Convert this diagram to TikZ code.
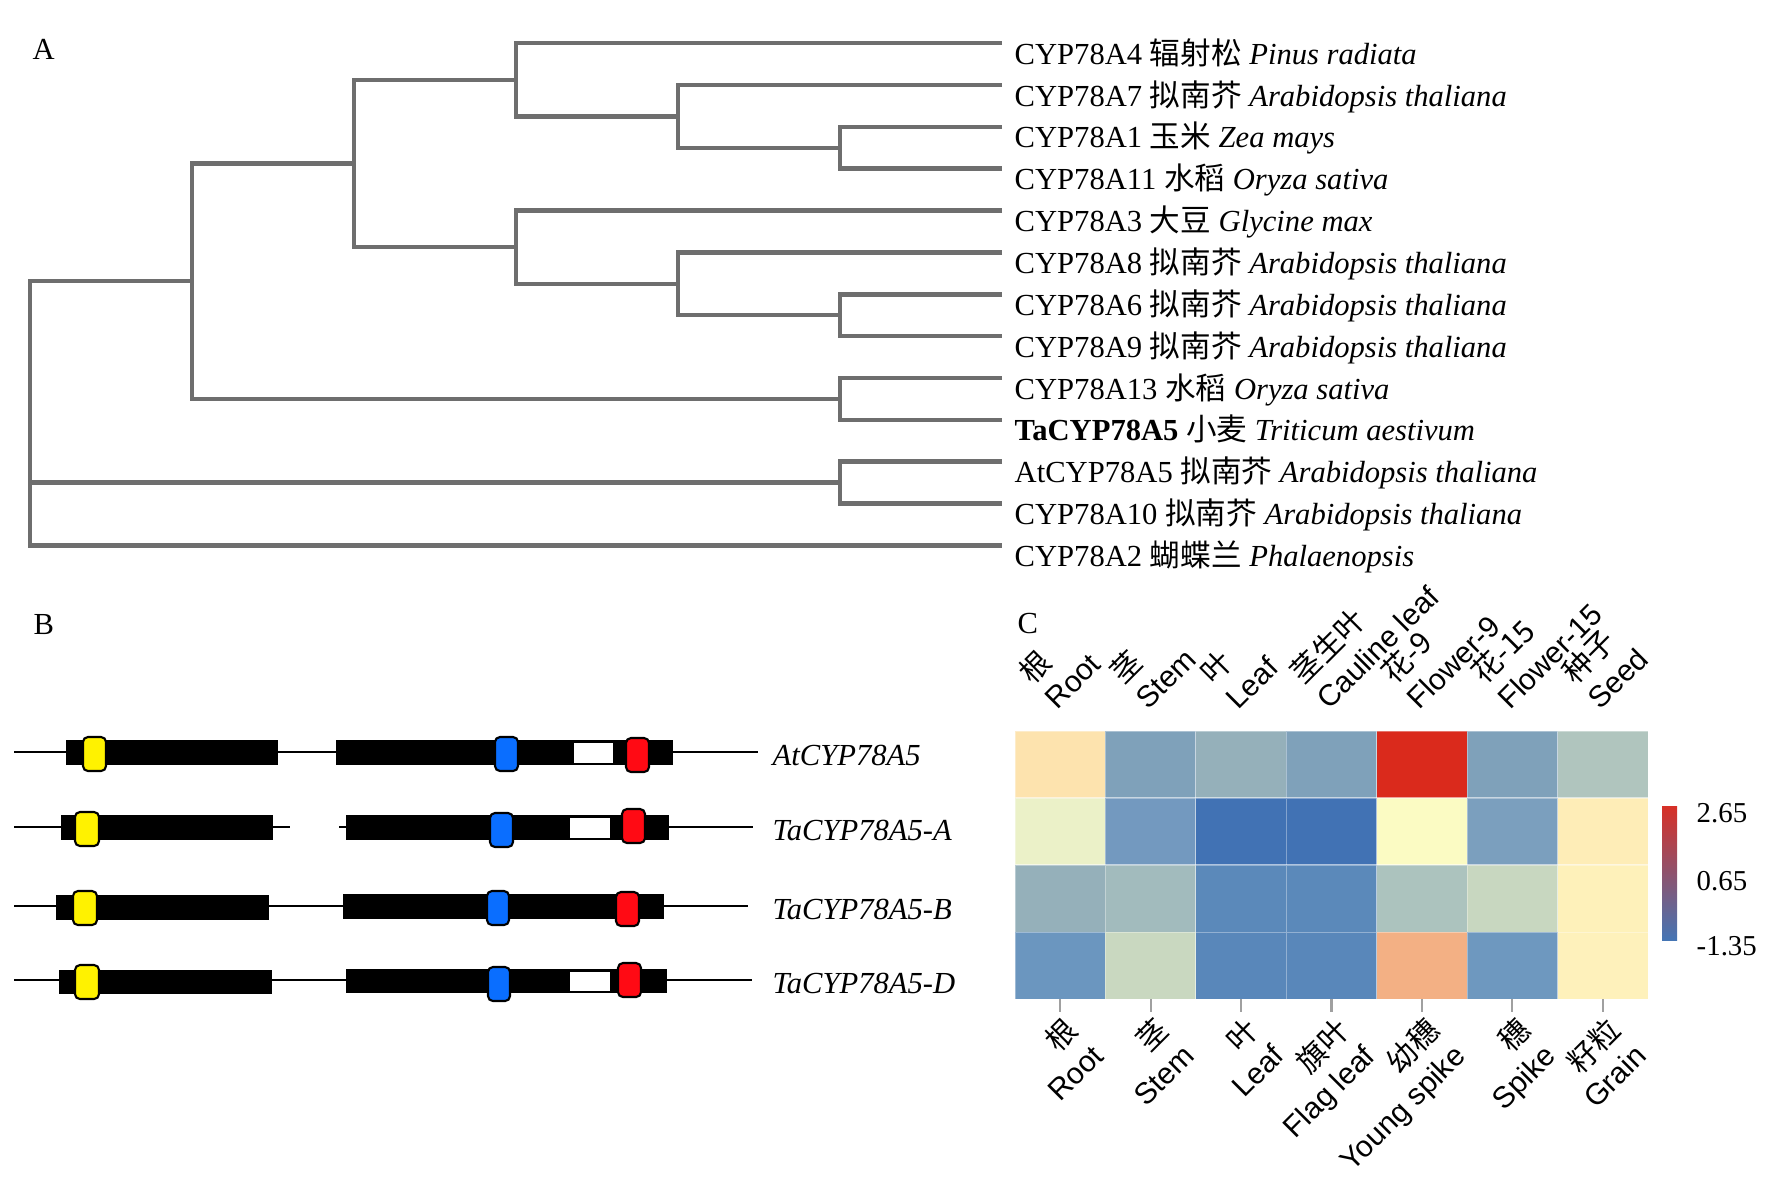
\documentclass[tikz,border=0pt]{standalone}
\usepackage{fontspec}
\setmainfont{Liberation Serif}
\setsansfont{Liberation Sans}
\newfontfamily\cjk{Noto Sans CJK SC}
\usepackage{tikz}

\definecolor{treegray}{HTML}{6E6E6E}
\definecolor{motifyellow}{HTML}{FFF200}
\definecolor{motifblue}{HTML}{0A6EFF}
\definecolor{motifred}{HTML}{FF0A14}
\definecolor{tickgray}{HTML}{A0A0A0}
\definecolor{hmred}{HTML}{D73027}
\definecolor{hmyellow}{HTML}{FFFFBF}
\definecolor{hmblue}{HTML}{4575B4}

\begin{document}
\begin{tikzpicture}[x=0.01cm, y=-0.01cm,
    tree/.style={draw=treegray, line width=1.3pt},
    leaflab/.style={anchor=base west, inner sep=0pt, font=\fontsize{8.7}{10}\selectfont},
    panel/.style={anchor=base west, inner sep=0pt, font=\fontsize{8.7}{10}\selectfont},
    intron/.style={line width=0.8pt},
    motif/.style={draw=black, line width=0.6pt, rounded corners=1.4pt},
    genelab/.style={anchor=base west, inner sep=0pt, font=\itshape\fontsize{8.7}{10}\selectfont},
    toplab/.style={rotate=45, anchor=south west, align=left, inner sep=0pt, font=\sffamily\fontsize{8.5}{10.2}\selectfont},
    botlab/.style={rotate=45, anchor=north east, align=right, inner sep=0pt, font=\sffamily\fontsize{8.5}{10.2}\selectfont},
    scalelab/.style={anchor=west, inner sep=0pt, font=\fontsize{8.2}{10}\selectfont}]
  \useasboundingbox (0,0) rectangle (1777,1187);

  % A: tree
  \node[panel] (pa) at (32,59) {A};
  \coordinate (l0) at (1002,43.2);
  \coordinate (l1) at (1002,85.05);
  \coordinate (l2) at (1002,126.9);
  \coordinate (l3) at (1002,168.75);
  \coordinate (l4) at (1002,210.6);
  \coordinate (l5) at (1002,252.45);
  \coordinate (l6) at (1002,294.3);
  \coordinate (l7) at (1002,336.15);
  \coordinate (l8) at (1002,378);
  \coordinate (l9) at (1002,419.85);
  \coordinate (l10) at (1002,461.7);
  \coordinate (l11) at (1002,503.55);
  \coordinate (l12) at (1002,545.4);
  \coordinate (n6a) at (840,147.8);
  \coordinate (n5a) at (678,116.4);
  \coordinate (n4a) at (516,79.8);
  \coordinate (n6b) at (840,315.2);
  \coordinate (n5b) at (678,283.8);
  \coordinate (n4b) at (516,247.2);
  \coordinate (n3) at (354,163.5);
  \coordinate (n6c) at (840,398.9);
  \coordinate (n2) at (192,281.2);
  \coordinate (n6d) at (840,482.6);
  \coordinate (root) at (30,281.2);
  \draw[tree] (l2) -| (n6a) |- (l3);
  \draw[tree] (l1) -| (n5a) |- (n6a);
  \draw[tree] (l0) -| (n4a) |- (n5a);
  \draw[tree] (l6) -| (n6b) |- (l7);
  \draw[tree] (l5) -| (n5b) |- (n6b);
  \draw[tree] (l4) -| (n4b) |- (n5b);
  \draw[tree] (n4a) -| (n3) |- (n4b);
  \draw[tree] (l8) -| (n6c) |- (l9);
  \draw[tree] (n3) -| (n2) |- (n6c);
  \draw[tree] (l10) -| (n6d) |- (l11);
  \draw[tree] (n2) -| (root) |- (l12);
  \draw[tree] (root) |- (n6d);
  \node[leaflab] (t0) at (1014,64.2) {CYP78A4 {\cjk 辐射松} \textit{Pinus radiata}};
  \node[leaflab] (t1) at (1014,106) {CYP78A7 {\cjk 拟南芥} \textit{Arabidopsis thaliana}};
  \node[leaflab] (t2) at (1014,147.9) {CYP78A1 {\cjk 玉米} \textit{Zea mays}};
  \node[leaflab] (t3) at (1014,189.7) {CYP78A11 {\cjk 水稻} \textit{Oryza sativa}};
  \node[leaflab] (t4) at (1014,231.6) {CYP78A3 {\cjk 大豆} \textit{Glycine max}};
  \node[leaflab] (t5) at (1014,273.4) {CYP78A8 {\cjk 拟南芥} \textit{Arabidopsis thaliana}};
  \node[leaflab] (t6) at (1014,315.3) {CYP78A6 {\cjk 拟南芥} \textit{Arabidopsis thaliana}};
  \node[leaflab] (t7) at (1014,357.1) {CYP78A9 {\cjk 拟南芥} \textit{Arabidopsis thaliana}};
  \node[leaflab] (t8) at (1014,399) {CYP78A13 {\cjk 水稻} \textit{Oryza sativa}};
  \node[leaflab] (t9) at (1014,440.8) {\textbf{TaCYP78A5} {\cjk 小麦} \textit{Triticum aestivum}};
  \node[leaflab] (t10) at (1014,482.7) {AtCYP78A5 {\cjk 拟南芥} \textit{Arabidopsis thaliana}};
  \node[leaflab] (t11) at (1014,524.5) {CYP78A10 {\cjk 拟南芥} \textit{Arabidopsis thaliana}};
  \node[leaflab] (t12) at (1014,566.4) {CYP78A2 {\cjk 蝴蝶兰} \textit{Phalaenopsis}};

  % B: gene structures
  \node[panel] (pb) at (33,634) {B};
  % AtCYP78A5
  \draw[intron] (14,752) -- (758,752);
  \fill (66,740) rectangle (278,765);
  \fill (336,740) rectangle (673,765);
  \fill[white] (574,743) rectangle (613,763);
  \draw[motif, fill=motifyellow] (83,737) rectangle (106,771);
  \draw[motif, fill=motifblue] (495,737) rectangle (518,771);
  \draw[motif, fill=motifred] (626,738) rectangle (649,772);
  \node[genelab] (g1) at (772,765.5) {AtCYP78A5};
  % TaCYP78A5-A
  \draw[intron] (14,827) -- (290,827);
  \draw[intron] (339,827) -- (753,827);
  \fill (61,815) rectangle (273,840);
  \fill (346,815) rectangle (669,840);
  \fill[white] (570,818) rectangle (610,838);
  \draw[motif, fill=motifyellow] (75,812) rectangle (99,846);
  \draw[motif, fill=motifblue] (490,813) rectangle (513,847);
  \draw[motif, fill=motifred] (622,809) rectangle (645,843);
  \node[genelab] (g2) at (772,840.5) {TaCYP78A5-A};
  % TaCYP78A5-B
  \draw[intron] (14,906) -- (748,906);
  \fill (56,895) rectangle (269,920);
  \fill (343,894) rectangle (664,919);
  \draw[motif, fill=motifyellow] (73,891) rectangle (97,925);
  \draw[motif, fill=motifblue] (487,891) rectangle (509,925);
  \draw[motif, fill=motifred] (616,892) rectangle (639,926);
  \node[genelab] (g3) at (772,919.5) {TaCYP78A5-B};
  % TaCYP78A5-D
  \draw[intron] (14,980) -- (752,980);
  \fill (59,970) rectangle (272,994);
  \fill (346,969) rectangle (667,993);
  \fill[white] (570,972) rectangle (610,991);
  \draw[motif, fill=motifyellow] (75,965) rectangle (99,999);
  \draw[motif, fill=motifblue] (488,967) rectangle (510,1001);
  \draw[motif, fill=motifred] (618,963) rectangle (641,997);
  \node[genelab] (g4) at (772,993.5) {TaCYP78A5-D};

  % C: heatmap
  \node[panel] (pc) at (1017,633) {C};
  \foreach \r/\cols in {0/{FDE3AE,7FA1BA,95B0BA,7FA1BA,DA2A1C,7FA1BA,B0C5BE},
                        1/{EBF1C8,7399BF,4172B4,4172B4,FBFBC3,7B9FBE,FEEDB7},
                        2/{95B0BA,A2BBBD,5B89BA,5B89BA,ACC3BE,C8D7C0,FEF1BA},
                        3/{6B96BF,C9D8C0,5987BA,5987BA,F3B084,6E98BF,FEF1BB}}
    \foreach \c [count=\k from 0] in \cols {
      \definecolor{cellcol}{HTML}{\c}
      \fill[cellcol, draw=white, draw opacity=0.35, line width=0.3pt] ({1015+90.43*\k},{731+67*\r}) rectangle ++(90.43,67);
    }
  \foreach \k in {0,...,6}
    \draw[tickgray, line width=0.6pt] ({1060.2+90.43*\k},999) -- ++(0,13);
  \shade[top color=hmred, middle color=hmyellow, bottom color=hmblue] (1662,806) rectangle (1677,940);
  \node[scalelab] (s1) at (1696,813) {2.65};
  \node[scalelab] (s2) at (1696,881) {0.65};
  \node[scalelab] (s3) at (1696,946) {-1.35};

  \node[toplab] (c1) at (1058,712) {{\cjk 根}\\Root};
  \node[toplab] (c2) at (1148.6,712) {{\cjk 茎}\\Stem};
  \node[toplab] (c3) at (1239.1,712) {{\cjk 叶}\\Leaf};
  \node[toplab] (c4) at (1329.5,712) {{\cjk 茎生叶}\\Cauline leaf};
  \node[toplab] (c5) at (1419.9,712) {{\cjk 花-9}\\Flower-9};
  \node[toplab] (c6) at (1510.4,712) {{\cjk 花-15}\\Flower-15};
  \node[toplab] (c7) at (1600.8,712) {{\cjk 种子}\\Seed};

  \node[botlab] (r1) at (1062.2,1014) {{\cjk 根}\\Root};
  \node[botlab] (r2) at (1152.6,1014) {{\cjk 茎}\\Stem};
  \node[botlab] (r3) at (1243.1,1014) {{\cjk 叶}\\Leaf};
  \node[botlab] (r4) at (1333.5,1014) {{\cjk 旗叶}\\Flag leaf};
  \node[botlab] (r5) at (1423.9,1014) {{\cjk 幼穗}\\Young spike};
  \node[botlab] (r6) at (1514.4,1014) {{\cjk 穗}\\Spike};
  \node[botlab] (r7) at (1604.8,1014) {{\cjk 籽粒}\\Grain};
\end{tikzpicture}
\end{document}
